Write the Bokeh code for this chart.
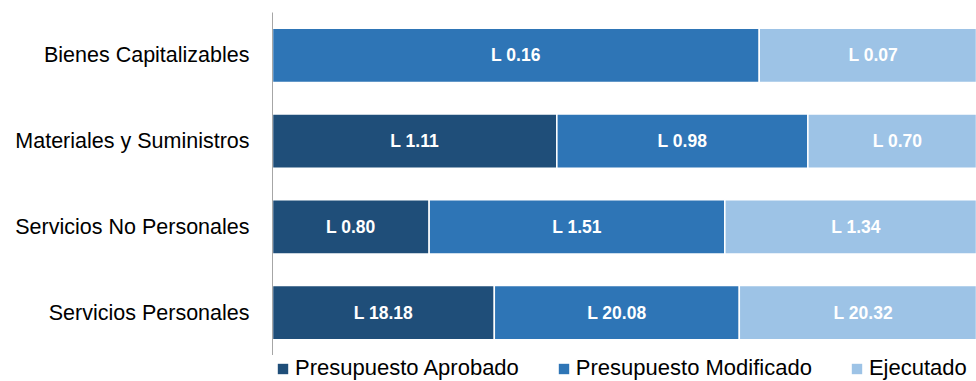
from bokeh.plotting import figure
from bokeh.layouts import column
from bokeh.models import ColumnDataSource, Range1d, FactorRange, Legend, LegendItem
from bokeh.core.properties import value
from bokeh.embed import file_html
from bokeh.resources import INLINE

# Data (millions of Lempiras)
categories = ["Servicios Personales", "Servicios No Personales",
              "Materiales y Suministros", "Bienes Capitalizables"]
series_names = ["Presupuesto Aprobado", "Presupuesto Modificado", "Ejecutado"]
aprobado = [18.18, 0.80, 1.11, 0.0]
modificado = [20.08, 1.51, 0.98, 0.158]
ejecutado = [20.32, 1.34, 0.70, 0.074]

colors = ["#1F4E79", "#2E75B6", "#9DC3E6"]
keys = ["apr", "mod", "eje"]
series_vals = [aprobado, modificado, ejecutado]

totals = [a + m + e for a, m, e in zip(aprobado, modificado, ejecutado)]
data = {"cat": categories}
for k, vals in zip(keys, series_vals):
    data[k] = [v / t for v, t in zip(vals, totals)]
src = ColumnDataSource(data)

# label positions derived from data
lx, ly, lt = [], [], []
for i, cat in enumerate(categories):
    start = 0.0
    for k, vals in zip(keys, series_vals):
        share = data[k][i]
        if vals[i] > 0:
            lx.append(start + share / 2)
            ly.append(cat)
            lt.append("L {:.2f}".format(vals[i]))
        start += share
lsrc = ColumnDataSource(dict(x=lx, y=ly, label=lt))

p = figure(y_range=FactorRange(factors=categories, range_padding=0),
           x_range=Range1d(0, 0.985),
           width=976, height=355, output_backend="svg", toolbar_location=None,
           min_border_left=272, min_border_right=0, min_border_top=12, min_border_bottom=0)

rs = p.hbar_stack(keys, y="cat", height=0.63, fill_color=colors, line_color="white",
                  line_width=1.5, source=src)

p.text(x="x", y="y", text="label", source=lsrc, text_align="center",
       text_baseline="middle", text_color="white",
       text_font=value("Liberation Sans"), text_font_style="bold",
       text_font_size="17.5px")

p.xaxis.visible = False
p.yaxis.axis_line_color = "#a6a6a6"
p.yaxis.major_tick_line_color = None
p.yaxis.minor_tick_line_color = None
p.yaxis.major_label_text_font = "Liberation Sans"
p.yaxis.major_label_text_font_size = "21.5px"
p.yaxis.major_label_text_color = "black"
p.yaxis.major_label_standoff = 17
p.ygrid.grid_line_color = None
p.xgrid.grid_line_color = None
p.outline_line_color = None

# Legend strip below the chart
lg = figure(width=976, height=26, output_backend="svg", toolbar_location=None,
            x_range=Range1d(0, 1), y_range=Range1d(0, 1),
            min_border_left=272, min_border_right=0, min_border_top=0, min_border_bottom=0)
lg.xaxis.visible = False
lg.yaxis.visible = False
lg.xgrid.visible = False
lg.ygrid.visible = False
lg.outline_line_color = None
nan = float("nan")
dummy_src = ColumnDataSource(dict(x=[nan], y=[nan]))
dummies = [lg.rect(x="x", y="y", width=1, height=1, fill_color=c, line_color=None,
                   source=dummy_src) for c in colors]
items = [LegendItem(label=n, renderers=[r]) for n, r in zip(series_names, dummies)]
legend = Legend(items=items, orientation="horizontal", location=(4, 0),
                padding=0, margin=0, spacing=38, glyph_width=13, glyph_height=13,
                label_standoff=6, label_text_font="Liberation Sans",
                label_text_font_size="22px", label_text_color="black",
                border_line_color=None, background_fill_alpha=0)
lg.add_layout(legend)

layout = column(p, lg, spacing=0)
open("out.html", "w").write(file_html(layout, INLINE))
